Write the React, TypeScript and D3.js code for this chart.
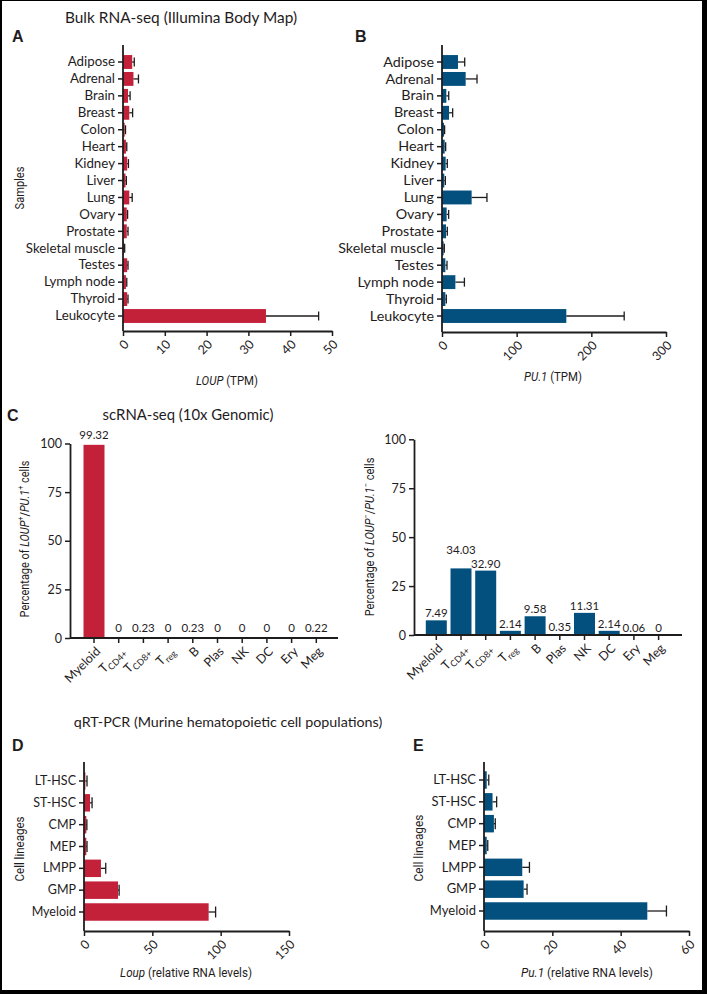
import { useRef, useEffect } from 'react';
import * as d3 from 'd3';

// ---- data ----
const bodySamples = ['Adipose', 'Adrenal', 'Brain', 'Breast', 'Colon', 'Heart', 'Kidney', 'Liver', 'Lung', 'Ovary', 'Prostate', 'Skeletal muscle', 'Testes', 'Lymph node', 'Thyroid', 'Leukocyte'];
const loupTpm = [2.2, 2.5, 1.2, 1.5, 0.4, 0.7, 1.0, 0.6, 1.5, 0.9, 0.9, 0.2, 1.0, 0.7, 1.0, 34.2];
const loupTpmErr = [0.5, 1.2, 0.5, 0.8, 0.2, 0.2, 0.3, 0.2, 0.7, 0.2, 0.3, 0.2, 0.2, 0.2, 0.2, 12.6];
const pu1Tpm = [21.4, 31.7, 5.8, 9.4, 2.7, 3.6, 4.9, 3.1, 39.7, 6.2, 5.4, 2.2, 4.5, 17.9, 4.5, 166.5];
const pu1TpmErr = [9.0, 15.2, 3.2, 4.9, 0.8, 1.3, 2.2, 1.4, 20.5, 2.7, 1.7, 0.9, 2.2, 12.1, 1.3, 77.5];
const tpmTicksA = [0, 10, 20, 30, 40, 50];
const tpmTicksB = [0, 100, 200, 300];

const cellTypes = ['Myeloid', 'T CD4+', 'T CD8+', 'T reg', 'B', 'Plas', 'NK', 'DC', 'Ery', 'Meg'];
const pctLoupPos = [99.32, 0, 0.23, 0, 0.23, 0, 0, 0, 0, 0.22];
const pctLoupNeg = [7.49, 34.03, 32.9, 2.14, 9.58, 0.35, 11.31, 2.14, 0.06, 0];
const pctLabelsPos = ['99.32', '0', '0.23', '0', '0.23', '0', '0', '0', '0', '0.22'];
const pctLabelsNeg = ['7.49', '34.03', '32.90', '2.14', '9.58', '0.35', '11.31', '2.14', '0.06', '0'];
const pctTicks = [0, 25, 50, 75, 100];

const lineages = ['LT-HSC', 'ST-HSC', 'CMP', 'MEP', 'LMPP', 'GMP', 'Myeloid'];
const loupRel = [1.0, 4.4, 1.7, 1.7, 12.4, 24.9, 91.2];
const loupRelErr = [1.2, 1.5, 0.4, 0.5, 3.5, 0.8, 5.1];
const pu1Rel = [0.8, 2.5, 2.9, 0.8, 11.2, 11.6, 47.8];
const pu1RelErr = [0.6, 1.2, 0.4, 0.3, 2.1, 1.0, 5.6];
const relTicksD = [0, 50, 100, 150];
const relTicksE = [0, 20, 40, 60];

const RED = '#c3203a';
const BLUE = '#03507f';
const INK = '#1f1c1d';
const FONT = "Lato, 'Open Sans', sans-serif";
const NARROW = "Roboto, sans-serif";

function styleAxis(a) {
  a.attr('color', INK).attr('font-family', FONT);
  a.selectAll('line').attr('stroke-width', 1.5);
  a.selectAll('.domain').attr('stroke-width', 1.8);
}

// condensed axis titles: Roboto squeezed along the text direction to the wanted width
function axisTitle(svg, x, y, width, parts, rotate) {
  const base = rotate ? `translate(${x},${y}) rotate(-90)` : `translate(${x},${y})`;
  const t = svg.append('text')
    .attr('font-family', NARROW)
    .attr('font-size', 13)
    .attr('fill', INK)
    .attr('text-anchor', 'middle')
    .attr('transform', base)
    .attr('dy', rotate ? '0.35em' : 0);
  parts.forEach(p => {
    const s = t.append('tspan').text(p.t);
    if (p.i) s.attr('font-style', 'italic');
    if (p.sup) s.attr('font-size', 8.5).attr('dy', -5);
    if (p.after) s.attr('dy', 5);
  });
  const len = t.node().getComputedTextLength();
  const k = len > 0 ? Math.min(1, width / len) : 0.84;
  t.attr('transform', `${base} scale(${k},1)`);
}

function drawHBar(svg, o) {
  const n = o.cats.length;
  const step = (o.lastY - o.firstY) / (n - 1);
  const y = d3.scaleBand()
    .domain(o.cats)
    .range([o.firstY - step / 2, o.lastY + step / 2])
    .paddingInner(o.pad)
    .paddingOuter(o.pad / 2);
  const x = d3.scaleLinear().domain(o.domain).range([o.axisX, o.xRight]);
  const g = svg.append('g');

  g.selectAll('rect')
    .data(o.cats)
    .join('rect')
    .attr('x', x(0))
    .attr('y', d => y(d))
    .attr('width', (_, i) => x(o.values[i]) - x(0))
    .attr('height', y.bandwidth())
    .attr('fill', o.color);

  const eb = g.append('g').attr('stroke', INK).attr('stroke-width', 1.3);
  o.cats.forEach((c, i) => {
    const cy = y(c) + y.bandwidth() / 2;
    const x1 = x(o.values[i]);
    const x2 = x(o.values[i] + o.errs[i]);
    eb.append('line').attr('x1', x1).attr('x2', x2).attr('y1', cy).attr('y2', cy);
    eb.append('line').attr('x1', x2).attr('x2', x2).attr('y1', cy - o.cap / 2).attr('y2', cy + o.cap / 2);
  });

  const ya = g.append('g')
    .attr('transform', `translate(${o.axisX},0)`)
    .call(d3.axisLeft(y).tickSize(5).tickPadding(3));
  ya.select('.domain').remove();
  styleAxis(ya);
  ya.selectAll('text').attr('font-size', o.catSize);

  g.append('line')
    .attr('x1', o.axisX).attr('x2', o.axisX)
    .attr('y1', o.axisTop).attr('y2', o.axisBottom)
    .attr('stroke', INK).attr('stroke-width', 1.8);

  const xa = g.append('g')
    .attr('transform', `translate(0,${o.axisBottom})`)
    .call(d3.axisBottom(x).tickValues(o.ticks).tickSize(5).tickSizeOuter(0));
  styleAxis(xa);
  xa.selectAll('text')
    .attr('font-size', 12.5)
    .attr('y', 0)
    .attr('dy', '0.35em')
    .attr('text-anchor', 'end')
    .attr('transform', 'translate(3,11) rotate(-45)');
}

function drawVBar(svg, o) {
  const n = o.cats.length;
  const x = d3.scaleBand()
    .domain(o.cats)
    .range([o.firstX - o.step / 2, o.firstX + o.step * (n - 0.5)])
    .paddingInner(o.pad)
    .paddingOuter(o.pad / 2);
  const y = d3.scaleLinear().domain([0, 100]).range([o.y0, o.y100]);
  const g = svg.append('g');

  g.selectAll('rect')
    .data(o.cats)
    .join('rect')
    .attr('x', d => x(d))
    .attr('y', (_, i) => y(o.values[i]))
    .attr('width', x.bandwidth())
    .attr('height', (_, i) => y(0) - y(o.values[i]))
    .attr('fill', o.color);

  g.selectAll('text.val')
    .data(o.cats)
    .join('text')
    .attr('class', 'val')
    .attr('x', d => x(d) + x.bandwidth() / 2)
    .attr('y', (_, i) => y(o.values[i]) - o.gap - (o.lift[i] || 0))
    .attr('text-anchor', 'middle')
    .attr('font-family', FONT)
    .attr('font-size', 11.5)
    .attr('fill', INK)
    .text((_, i) => o.labels[i]);

  const ya = g.append('g')
    .attr('transform', `translate(${o.axisX},0)`)
    .call(d3.axisLeft(y).tickValues(pctTicks).tickSize(5).tickPadding(3).tickSizeOuter(0));
  styleAxis(ya);
  ya.selectAll('text').attr('font-size', 12.5);

  // x axis
  g.append('line')
    .attr('x1', o.axisX).attr('x2', o.xEnd)
    .attr('y1', o.y0).attr('y2', o.y0)
    .attr('stroke', INK).attr('stroke-width', 1.8);
  o.cats.forEach(c => {
    const cx = x(c) + x.bandwidth() / 2;
    g.append('line')
      .attr('x1', cx).attr('x2', cx)
      .attr('y1', o.y0).attr('y2', o.y0 + 5)
      .attr('stroke', INK).attr('stroke-width', 1.5);
    const t = g.append('text')
      .attr('font-family', FONT)
      .attr('font-size', 12.5)
      .attr('fill', INK)
      .attr('text-anchor', 'end')
      .attr('dy', '0.35em')
      .attr('transform', `translate(${cx + 4},${o.y0 + 11}) rotate(-45)`);
    if (c.startsWith('T ')) {
      t.append('tspan').text('T');
      t.append('tspan').attr('font-size', 9).attr('dy', 3).text(c.slice(2));
    } else {
      t.text(c);
    }
  });
}

export default function App() {
  const svgRef = useRef(null);

  useEffect(() => {
    const svg = d3.select(svgRef.current);
    svg.selectAll('*').remove();

    svg.append('rect').attr('width', 707).attr('height', 994).attr('fill', '#fff');

    // section titles
    const title = (x, y, size, s) => svg.append('text')
      .attr('x', x).attr('y', y)
      .attr('text-anchor', 'middle')
      .attr('font-family', FONT)
      .attr('font-size', size)
      .attr('fill', INK)
      .text(s);
    title(181, 23, 15.4, 'Bulk RNA-seq (Illumina Body Map)');
    title(188, 420, 14.9, 'scRNA-seq (10x Genomic)');
    title(228, 727, 14.3, 'qRT-PCR (Murine hematopoietic cell populations)');

    const letter = (x, y, s) => svg.append('text')
      .attr('x', x).attr('y', y)
      .attr('font-family', "'Liberation Sans', Arial, sans-serif")
      .attr('font-weight', 'bold')
      .attr('font-size', 16)
      .attr('fill', INK)
      .text(s);
    letter(12, 42, 'A');
    letter(355, 42, 'B');
    letter(7, 421, 'C');
    letter(12, 751, 'D');
    letter(413, 751, 'E');

    // A
    drawHBar(svg, {
      cats: bodySamples, values: loupTpm, errs: loupTpmErr, color: RED,
      axisX: 123, axisTop: 45, axisBottom: 331, firstY: 62, lastY: 316,
      domain: [0, 50], xRight: 332, ticks: tpmTicksA, pad: 0.18, cap: 9, catSize: 13.3,
    });
    axisTitle(svg, 19, 188, 43, [{ t: 'Samples' }], true);
    axisTitle(svg, 227, 385, 62, [{ t: 'LOUP', i: true }, { t: ' (TPM)' }]);

    // B
    drawHBar(svg, {
      cats: bodySamples, values: pu1Tpm, errs: pu1TpmErr, color: BLUE,
      axisX: 442, axisTop: 45, axisBottom: 332, firstY: 62, lastY: 316,
      domain: [0, 300], xRight: 666, ticks: tpmTicksB, pad: 0.18, cap: 9, catSize: 14.3,
    });
    axisTitle(svg, 553, 381, 58, [{ t: 'PU.1', i: true }, { t: ' (TPM)' }]);

    // C
    drawVBar(svg, {
      cats: cellTypes, values: pctLoupPos, labels: pctLabelsPos, color: RED,
      axisX: 70, xEnd: 338, y0: 638, y100: 443.5, firstX: 94, step: 24.7, pad: 0.15, gap: 6, lift: {},
    });
    axisTitle(svg, 24, 539, 157, [
      { t: 'Percentage of ' }, { t: 'LOUP', i: true }, { t: '+', sup: true },
      { t: '/', after: true }, { t: 'PU.1', i: true }, { t: '+', sup: true }, { t: ' cells', after: true },
    ], true);

    drawVBar(svg, {
      cats: cellTypes, values: pctLoupNeg, labels: pctLabelsNeg, color: BLUE,
      axisX: 414, xEnd: 682, y0: 635, y100: 439.3, firstX: 436.3, step: 24.7, pad: 0.15, gap: 3, lift: { 1: 11 },
    });
    axisTitle(svg, 369, 537, 159, [
      { t: 'Percentage of ' }, { t: 'LOUP', i: true }, { t: '−', sup: true },
      { t: '/', after: true }, { t: 'PU.1', i: true }, { t: '−', sup: true }, { t: ' cells', after: true },
    ], true);

    // D
    drawHBar(svg, {
      cats: lineages, values: loupRel, errs: loupRelErr, color: RED,
      axisX: 84, axisTop: 762, axisBottom: 931, firstY: 781, lastY: 912,
      domain: [0, 150], xRight: 289, ticks: relTicksD, pad: 0.2, cap: 11, catSize: 12.5,
    });
    axisTitle(svg, 19, 849, 65, [{ t: 'Cell lineages' }], true);
    axisTitle(svg, 186, 977, 132, [{ t: 'Loup', i: true }, { t: ' (relative RNA levels)' }]);

    // E
    drawHBar(svg, {
      cats: lineages, values: pu1Rel, errs: pu1RelErr, color: BLUE,
      axisX: 484, axisTop: 762, axisBottom: 931, firstY: 780, lastY: 911,
      domain: [0, 60], xRight: 689, ticks: relTicksE, pad: 0.2, cap: 11, catSize: 13,
    });
    axisTitle(svg, 418, 848, 67, [{ t: 'Cell lineages' }], true);
    axisTitle(svg, 587, 977, 132, [{ t: 'Pu.1', i: true }, { t: ' (relative RNA levels)' }]);

    // frame
    svg.append('rect').attr('x', 0).attr('y', 0).attr('width', 2).attr('height', 994).attr('fill', '#000');
    svg.append('rect').attr('x', 0).attr('y', 0).attr('width', 707).attr('height', 1).attr('fill', '#000');
    svg.append('rect').attr('x', 702).attr('y', 0).attr('width', 5).attr('height', 994).attr('fill', '#000');
    svg.append('rect').attr('x', 0).attr('y', 990).attr('width', 707).attr('height', 4).attr('fill', '#000');
  }, []);

  return (
    <svg
      ref={svgRef}
      width={707}
      height={994}
      style={{ position: 'absolute', left: 0, top: 0, display: 'block' }}
    />
  );
}
